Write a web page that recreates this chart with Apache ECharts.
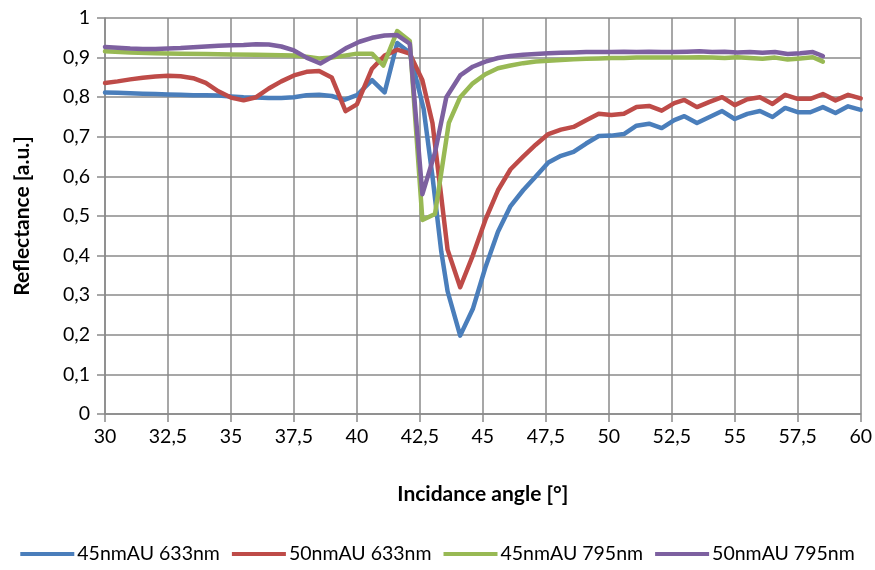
<!DOCTYPE html>
<html>
<head>
<meta charset="utf-8">
<script src="https://cdn.jsdelivr.net/npm/echarts@6/dist/echarts.min.js"></script>
<style>
html,body{margin:0;padding:0;background:#fff;}
#chart{width:875px;height:570px;}
</style>
</head>
<body>
<div id="chart"></div>
<script>
// ---- data ----
const seriesNames = ['45nmAU 633nm', '50nmAU 633nm', '45nmAU 795nm', '50nmAU 795nm'];
const xTicks = [30, 32.5, 35, 37.5, 40, 42.5, 45, 47.5, 50, 52.5, 55, 57.5, 60];
const yTicks = [0, 0.1, 0.2, 0.3, 0.4, 0.5, 0.6, 0.7, 0.8, 0.9, 1];

const blue45_633 = [[30.0,0.812],[30.5,0.811],[31.0,0.810],[31.5,0.809],[32.0,0.808],[32.5,0.807],[33.0,0.806],[33.5,0.805],[34.0,0.805],[34.5,0.804],[35.0,0.802],[35.5,0.800],[36.0,0.799],[36.5,0.798],[37.0,0.798],[37.5,0.800],[38.0,0.805],[38.5,0.806],[39.0,0.803],[39.5,0.793],[40.0,0.805],[40.6,0.843],[41.1,0.812],[41.6,0.937],[42.1,0.912],[42.65,0.77],[43.0,0.60],[43.35,0.41],[43.6,0.31],[44.1,0.198],[44.6,0.265],[45.1,0.37],[45.6,0.46],[46.1,0.525],[46.6,0.565],[47.1,0.60],[47.6,0.635],[48.1,0.652],[48.6,0.662],[49.1,0.683],[49.6,0.702],[50.1,0.703],[50.6,0.707],[51.1,0.728],[51.6,0.733],[52.1,0.722],[52.6,0.742],[53.0,0.752],[53.5,0.735],[54.0,0.750],[54.5,0.765],[55.0,0.745],[55.5,0.758],[56.0,0.765],[56.5,0.750],[57.0,0.773],[57.5,0.762],[58.0,0.762],[58.5,0.775],[59.0,0.760],[59.5,0.777],[60.0,0.768]];

const red50_633 = [[30.0,0.836],[30.5,0.840],[31.0,0.845],[31.5,0.849],[32.0,0.852],[32.5,0.854],[33.0,0.853],[33.5,0.848],[34.0,0.836],[34.5,0.815],[35.0,0.799],[35.5,0.792],[36.0,0.800],[36.5,0.822],[37.0,0.840],[37.5,0.855],[38.0,0.864],[38.5,0.866],[39.0,0.850],[39.55,0.765],[40.0,0.782],[40.6,0.872],[41.1,0.905],[41.6,0.920],[42.1,0.910],[42.6,0.843],[43.0,0.735],[43.6,0.415],[44.1,0.320],[44.6,0.400],[45.1,0.490],[45.6,0.565],[46.1,0.618],[46.6,0.650],[47.1,0.680],[47.6,0.707],[48.1,0.718],[48.6,0.725],[49.1,0.742],[49.6,0.758],[50.1,0.755],[50.6,0.758],[51.1,0.775],[51.6,0.778],[52.1,0.766],[52.6,0.785],[53.0,0.793],[53.5,0.775],[54.0,0.788],[54.5,0.800],[55.0,0.780],[55.5,0.795],[56.0,0.800],[56.5,0.783],[57.0,0.806],[57.5,0.796],[58.0,0.796],[58.5,0.808],[59.0,0.792],[59.5,0.806],[60.0,0.797]];

const green45_795 = [[30.0,0.916],[31.0,0.913],[32.0,0.911],[33.0,0.910],[34.0,0.909],[35.0,0.908],[36.0,0.907],[37.0,0.906],[37.5,0.905],[38.0,0.902],[38.5,0.898],[39.0,0.900],[39.5,0.905],[40.0,0.910],[40.6,0.910],[41.05,0.880],[41.6,0.967],[42.1,0.942],[42.6,0.490],[43.1,0.505],[43.65,0.735],[44.1,0.800],[44.6,0.835],[45.1,0.858],[45.6,0.873],[46.1,0.880],[46.6,0.886],[47.1,0.890],[47.6,0.892],[48.1,0.894],[48.6,0.896],[49.1,0.897],[49.6,0.898],[50.1,0.899],[50.6,0.899],[51.1,0.900],[51.6,0.900],[52.1,0.900],[52.6,0.900],[53.1,0.900],[53.6,0.901],[54.1,0.900],[54.6,0.899],[55.1,0.901],[55.6,0.899],[56.1,0.897],[56.6,0.900],[57.1,0.895],[57.6,0.898],[58.1,0.901],[58.5,0.890]];

const purple50_795 = [[30.0,0.927],[30.5,0.925],[31.0,0.923],[31.5,0.922],[32.0,0.922],[32.5,0.923],[33.0,0.924],[33.5,0.926],[34.0,0.928],[34.5,0.930],[35.0,0.931],[35.5,0.932],[36.0,0.934],[36.5,0.933],[37.0,0.928],[37.5,0.918],[38.0,0.900],[38.55,0.885],[39.1,0.905],[39.6,0.925],[40.1,0.940],[40.6,0.950],[41.1,0.956],[41.6,0.957],[42.1,0.935],[42.6,0.555],[43.1,0.660],[43.55,0.800],[44.1,0.855],[44.6,0.877],[45.1,0.890],[45.6,0.899],[46.1,0.904],[46.6,0.907],[47.1,0.909],[47.6,0.911],[48.1,0.912],[48.6,0.913],[49.1,0.914],[49.6,0.914],[50.1,0.914],[50.6,0.915],[51.1,0.914],[51.6,0.915],[52.1,0.914],[52.6,0.914],[53.1,0.915],[53.6,0.916],[54.1,0.914],[54.6,0.915],[55.1,0.913],[55.6,0.914],[56.1,0.912],[56.6,0.914],[57.1,0.909],[57.6,0.911],[58.1,0.914],[58.5,0.904]];

const seriesData = [blue45_633, red50_633, green45_795, purple50_795];
const colors = ['#4A7EBB', '#BE4B48', '#98B954', '#7D60A0'];

// ---- chart ----
const FONT = 'Lato, "Open Sans", sans-serif';
const gridColor = '#8a8a8a';
const fmt = v => String(v).replace('.', ',');

const chart = echarts.init(document.getElementById('chart'), null, {renderer: 'canvas'});
chart.setOption({
  animation: false,
  backgroundColor: '#ffffff',
  grid: {left: 105, right: 13, top: 18, bottom: 156, containLabel: false},
  legend: {
    bottom: 1,
    left: 'center',
    itemWidth: 54,
    itemHeight: 4,
    itemGap: 12,
    icon: 'rect',
    textStyle: {fontFamily: FONT, fontSize: 19.5, color: '#000', padding: [0, 0, 0, -2]},
    data: seriesNames
  },
  xAxis: {
    type: 'value',
    min: xTicks[0],
    max: xTicks[xTicks.length - 1],
    interval: 2.5,
    name: 'Incidance angle [°]',
    nameLocation: 'middle',
    nameGap: 70,
    nameTextStyle: {fontFamily: FONT, fontSize: 21, fontWeight: 'bold', color: '#000'},
    axisLine: {show: true, lineStyle: {color: gridColor, width: 1.5}},
    axisTick: {show: true, length: 8, lineStyle: {color: gridColor, width: 1.5}},
    axisLabel: {fontFamily: FONT, fontSize: 19.5, color: '#000', margin: 13, formatter: fmt},
    splitLine: {show: true, lineStyle: {color: gridColor, width: 1.5}}
  },
  yAxis: {
    type: 'value',
    min: yTicks[0],
    max: yTicks[yTicks.length - 1],
    interval: 0.1,
    name: 'Reflectance [a.u.]',
    nameLocation: 'middle',
    nameGap: 72,
    nameTextStyle: {fontFamily: FONT, fontSize: 21, fontWeight: 'bold', color: '#000'},
    axisLine: {show: true, lineStyle: {color: gridColor, width: 1.5}},
    axisTick: {show: true, length: 8, lineStyle: {color: gridColor, width: 1.5}},
    axisLabel: {fontFamily: FONT, fontSize: 19.5, color: '#000', margin: 15,
      formatter: v => fmt(Math.round(v * 10) / 10)},
    splitLine: {show: true, lineStyle: {color: gridColor, width: 1.5}}
  },
  series: seriesNames.map((name, i) => ({
    name: name,
    type: 'line',
    data: seriesData[i],
    showSymbol: false,
    symbol: 'none',
    smooth: false,
    color: colors[i],
    lineStyle: {width: 4.5, color: colors[i], join: 'round', cap: 'round'},
    z: 2 + i
  }))
});
</script>
</body>
</html>
